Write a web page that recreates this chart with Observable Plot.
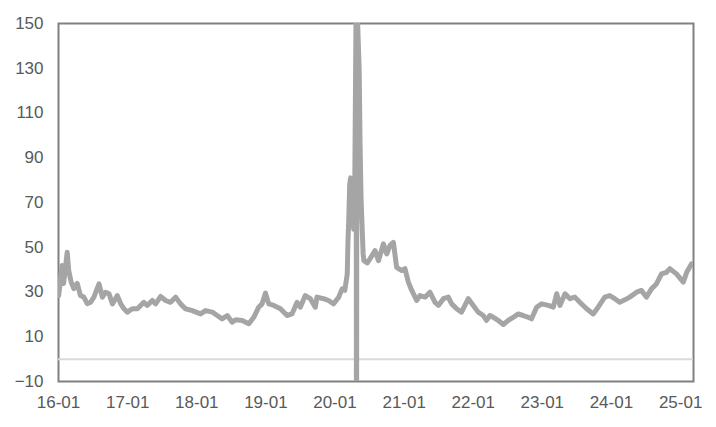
<!DOCTYPE html>
<html>
<head>
<meta charset="utf-8">
<script src="https://cdn.jsdelivr.net/npm/d3@7"></script>
<script src="https://cdn.jsdelivr.net/npm/@observablehq/plot@0.6"></script>
<style>
  html, body { margin: 0; padding: 0; background: #ffffff; }
  #chart { width: 716px; height: 427px; }
</style>
</head>
<body>
<div id="chart"></div>
<script>
const dates = [
  "2016-01-02","2016-01-11","2016-01-20","2016-01-28","2016-02-16","2016-02-24","2016-03-08","2016-03-22",
  "2016-04-09","2016-04-26","2016-05-14","2016-06-01","2016-06-19","2016-07-06","2016-08-02","2016-08-20",
  "2016-09-06","2016-09-24","2016-10-12","2016-11-07","2016-11-25","2016-12-12","2016-12-30",
  "2017-01-25","2017-02-21","2017-03-27","2017-04-14","2017-05-11","2017-05-28","2017-06-24","2017-07-20",
  "2017-08-15","2017-09-11","2017-10-07","2017-11-02","2017-12-08",
  "2018-01-21","2018-02-16","2018-03-24","2018-04-19","2018-05-15","2018-06-11","2018-07-07","2018-07-25",
  "2018-08-29","2018-10-03","2018-10-29","2018-11-24","2018-12-12","2018-12-30",
  "2019-01-16","2019-02-12","2019-03-19","2019-04-23","2019-05-19","2019-06-15","2019-07-02","2019-07-28",
  "2019-08-24","2019-09-19","2019-09-28","2019-11-02","2019-11-28","2019-12-25",
  "2020-01-21","2020-02-08","2020-02-22","2020-03-06","2020-03-10","2020-03-14","2020-03-19","2020-03-24",
  "2020-03-28","2020-04-03","2020-04-09","2020-04-15","2020-04-22","2020-04-24","2020-04-26","2020-05-08",
  "2020-05-13","2020-05-18","2020-05-24","2020-05-29","2020-06-02","2020-06-20","2020-07-04","2020-07-31",
  "2020-08-18","2020-09-13","2020-10-01","2020-10-18","2020-11-05","2020-11-22","2020-12-19",
  "2021-01-05","2021-01-23","2021-02-10","2021-03-08","2021-03-25","2021-04-21","2021-05-17","2021-06-13",
  "2021-07-01","2021-07-27","2021-08-22","2021-09-09","2021-10-05","2021-10-31","2021-12-06",
  "2022-01-01","2022-01-27","2022-02-23","2022-03-12","2022-03-30","2022-04-17","2022-05-13","2022-06-09",
  "2022-07-05","2022-07-31","2022-08-27","2022-09-22","2022-10-19","2022-11-05","2022-12-02","2022-12-28",
  "2023-02-02","2023-02-28","2023-03-18","2023-04-04","2023-05-01","2023-05-27","2023-06-22","2023-07-18",
  "2023-08-23","2023-09-27","2023-10-23","2023-11-27","2023-12-23",
  "2024-01-19","2024-02-14","2024-03-12","2024-04-07","2024-05-13","2024-06-08","2024-07-04","2024-07-31",
  "2024-08-26","2024-09-22","2024-10-18","2024-11-05","2024-12-10",
  "2025-01-15","2025-02-02","2025-02-28"
];
// Series values (the April 2020 extremes run off the chart)
const values = [
  28.4,35,41.8,33.8,47.8,39.6,34.4,31.5,
  33.8,28.4,27.7,24.8,25.4,27.7,33.6,27.7,
  29.9,29.2,24.7,28.4,24.7,22.5,21,
  22.5,22.5,25.4,24,26.2,24.7,28,26.2,
  25.4,27.7,24.7,22.5,21.7,
  20.2,21.7,21,19.5,18,19.5,16.5,17.6,
  17.3,15.8,18.7,23.2,24.7,29.5,
  24.7,24,22.5,19.5,20.2,25.4,23.2,28.4,
  27,23.2,27.7,27,26.2,24.7,
  27.7,31.4,30.7,38,53,62,78,81,
  60,75,58,80,160,-80,160,130,
  95,72,58,47,44,43,44.8,48.5,
  44,51.5,47,50.8,52.2,41,39.6,
  40.4,34.4,30.7,26.2,28.4,27.7,29.9,25.4,
  24,27,27.7,24.7,22.5,21,27,
  24,21,19.5,17.3,19.5,18.7,17.3,15.5,
  17.3,18.7,20.2,19.5,18.7,18,23.2,24.7,
  24,23.2,29.2,24,29.2,27,27.7,25.4,
  22.5,20.2,23.2,27.7,28.4,
  27,25.4,26.5,27.7,29.9,30.7,27.7,31.4,
  33.6,38.1,38.8,40.4,38.1,
  34.4,38.8,42.6
];
// Axis ticks
const xTicks = ["2016-01-01","2017-01-01","2018-01-01","2019-01-01","2020-01-01",
                "2021-01-01","2022-01-01","2023-01-01","2024-01-01","2025-01-01"];
const yTicks = [-10, 10, 30, 50, 70, 90, 110, 130, 150];
const xStart = "2016-01-01";
const xEnd = "2025-03-10";

const data = dates.map((d, i) => ({date: new Date(d), value: values[i]}));
const fmt = d3.utcFormat("%y-%m");

const chart = Plot.plot({
  width: 716,
  height: 427,
  marginLeft: 58,
  marginRight: 23,
  marginTop: 23,
  marginBottom: 46,
  style: {
    fontFamily: "'Liberation Sans', Arial, sans-serif",
    fontSize: "17px",
    color: "#595959",
    background: "#ffffff"
  },
  x: {type: "utc", domain: [new Date(xStart), new Date(xEnd)]},
  y: {domain: [-10, 150]},
  marks: [
    Plot.frame({stroke: "#808080", strokeWidth: 2}),
    Plot.ruleY([0], {stroke: "#d9d9d9", strokeWidth: 2}),
    Plot.line(data, {x: "date", y: "value", stroke: "#a5a5a5", strokeWidth: 5,
                     strokeLinejoin: "round", strokeLinecap: "round", clip: true}),
    Plot.axisX({ticks: xTicks.map(d => new Date(d)), tickFormat: fmt, tickSize: 0,
                tickPadding: 14, label: null}),
    Plot.axisY({ticks: yTicks, tickSize: 0, tickPadding: 15, label: null})
  ]
});
document.getElementById("chart").appendChild(chart);
</script>
</body>
</html>
